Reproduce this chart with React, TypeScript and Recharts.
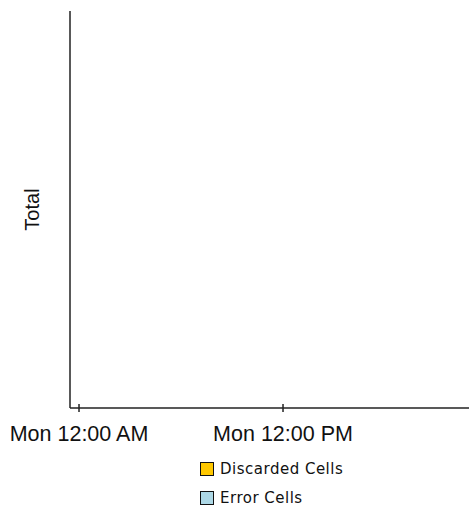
import { LineChart, Line, XAxis, YAxis, Legend, Label } from 'recharts';

// hours since Monday 00:00 — the chart has no samples, only the time axis
const hours = [0, 12];
const tickLabels = ['Mon 12:00 AM', 'Mon 12:00 PM'];
const discardedCells: (number | null)[] = [null, null];
const errorCells: (number | null)[] = [null, null];

const series = [
  { key: 'discarded', name: 'Discarded Cells', color: '#FFC800' },
  { key: 'error', name: 'Error Cells', color: '#ADD8E6' },
];

const data = hours.map((h, i) => ({
  hour: h,
  discarded: discardedCells[i],
  error: errorCells[i],
}));

const FONT = '"Liberation Sans", Arial, sans-serif';

const TimeTick = (props: any) => {
  const { x, y, payload } = props;
  const idx = hours.indexOf(payload.value);
  return (
    <g>
      <line x1={x} x2={x} y1={y - 4} y2={y + 4} stroke="#222" strokeWidth={1.5} />
      <text x={x} y={y + 33} textAnchor="middle" fontFamily={FONT} fontSize={21.5} fill="#111">
        {idx >= 0 ? tickLabels[idx] : ''}
      </text>
    </g>
  );
};

const LegendBoxes = () => (
  <div style={{ fontFamily: '"DejaVu Sans", sans-serif', fontSize: 15, color: '#111', letterSpacing: 0.5 }}>
    {series.map((s) => (
      <div key={s.key} style={{ display: 'flex', alignItems: 'center', height: 29 }}>
        <span
          style={{
            display: 'inline-block',
            width: 12,
            height: 12,
            background: s.color,
            border: '1.5px solid #111',
            marginRight: 6,
          }}
        />
        {s.name}
      </div>
    ))}
  </div>
);

export default function App() {
  return (
    <div style={{ position: 'absolute', left: 0, top: 0, width: 469, height: 510, background: '#fff' }}>
      <LineChart width={469} height={510} data={data} margin={{ top: 11, right: 0, bottom: 72, left: 10 }}>
        <XAxis
          dataKey="hour"
          type="number"
          domain={[-0.53, 22.94]}
          ticks={hours}
          tick={<TimeTick />}
          tickLine={false}
          tickSize={0}
          tickMargin={0}
          height={30}
          axisLine={{ stroke: '#222', strokeWidth: 1.5 }}
          allowDataOverflow
        />
        <YAxis
          width={60}
          tick={false}
          tickLine={false}
          domain={[0, 1]}
          axisLine={{ stroke: '#222', strokeWidth: 1.5 }}
        >
          <Label
            content={(p: any) => {
              const vb = p.viewBox;
              const cx = 32;
              const cy = vb.y + vb.height / 2;
              return (
                <text
                  x={cx}
                  y={cy}
                  transform={`rotate(-90 ${cx} ${cy})`}
                  textAnchor="middle"
                  dominantBaseline="central"
                  fontFamily={FONT}
                  fontSize={20}
                  fill="#111"
                >
                  Total
                </text>
              );
            }}
          />
        </YAxis>
        <Legend
          layout="horizontal"
          verticalAlign="middle"
          align="center"
          content={<LegendBoxes />}
          wrapperStyle={{ position: 'absolute', left: 200, top: 454, width: 220 }}
        />
        {series.map((s) => (
          <Line
            key={s.key}
            dataKey={s.key}
            name={s.name}
            stroke={s.color}
            dot={false}
            isAnimationActive={false}
          />
        ))}
      </LineChart>
    </div>
  );
}
